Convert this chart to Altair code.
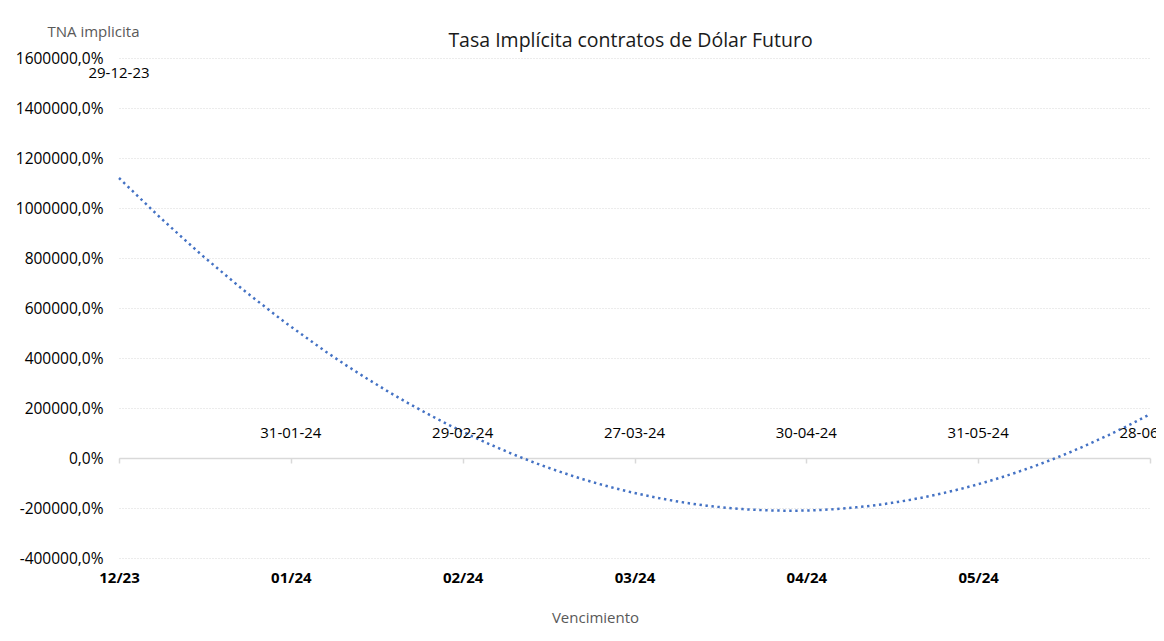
import altair as alt
import pandas as pd

# Data
fechas = ["29-12-23", "31-01-24", "29-02-24", "27-03-24", "30-04-24", "31-05-24", "28-06-24"]
mes_idx = [0, 1, 2, 3, 4, 5, 6]
tna = [1470000, 120, 110, 100, 95, 90, 85]  # TNA implícita, en %
mes_labels = ["12/23", "01/24", "02/24", "03/24", "04/24", "05/24"]
y_ticks = [-400000, -200000, 0, 200000, 400000, 600000, 800000, 1000000, 1200000, 1400000, 1600000]

df = pd.DataFrame({"fecha": fechas, "idx": mes_idx, "val": tna})

W, H = 1031, 500
Y_MIN, Y_MAX = -400000, 1600000
zero_from_top = H * (Y_MAX - 0) / (Y_MAX - Y_MIN)
zero_offset = -(H - zero_from_top)

FONT = "Open Sans"

y_scale = alt.Scale(domain=[Y_MIN, Y_MAX], nice=False, zero=False)
x_scale = alt.Scale(domain=[0, 6], nice=False, zero=False)

y_axis = alt.Axis(
    values=y_ticks,
    labelExpr="datum.value + ',0%'",
    labelFontSize=15.5,
    labelColor="#000000",
    labelPadding=16,
    domain=False,
    ticks=False,
    grid=True,
    gridColor="#d9d9d9",
    gridDash=[1, 2],
    gridWidth=1,
    title="TNA implicita",
    titleAngle=0,
    titleAlign="center",
    titleBaseline="middle",
    titleX=-26,
    titleY=-27,
    titleFontSize=15,
    titleFontWeight="normal",
    titleColor="#595959",
)

label_expr = "[" + ",".join("'" + m + "'" for m in mes_labels) + "][datum.value]"

trend = (
    alt.Chart(df)
    .transform_regression("idx", "val", method="poly", order=2)
    .mark_line(color="#4472C4", strokeWidth=2.5, strokeDash=[2.4, 3.6])
    .encode(
        x=alt.X(
            "idx:Q",
            scale=x_scale,
            axis=alt.Axis(
                orient="bottom",
                offset=zero_offset,
                values=mes_idx,
                labels=False,
                grid=False,
                domain=True,
                domainColor="#d9d9d9",
                domainWidth=1.5,
                ticks=True,
                tickColor="#d9d9d9",
                tickWidth=1.5,
                tickSize=5,
                title="Tasa Implícita contratos de Dólar Futuro",
                titleX=630 - 119,
                titleY=-18 - zero_from_top,
                titleAlign="center",
                titleBaseline="middle",
                titleFontSize=19.5,
                titleFontWeight="normal",
                titleColor="#1a1a1a",
            ),
        ),
        y=alt.Y("val:Q", scale=y_scale, axis=y_axis),
    )
)

labels = (
    alt.Chart(df)
    .transform_filter("datum.idx > 0")
    .mark_text(dy=-25, fontSize=15, font=FONT, color="#000000")
    .encode(
        x=alt.X(
            "idx:Q",
            scale=x_scale,
            axis=alt.Axis(
                orient="bottom",
                values=mes_idx[:6],
                labelExpr=label_expr,
                labelFlush=False,
                labelFontSize=15,
                labelFontWeight="bold",
                labelColor="#000000",
                labelPadding=12,
                domain=False,
                ticks=False,
                grid=False,
                title="Vencimiento",
                titleX=595 - 119,
                titleY=59,
                titleAlign="center",
                titleBaseline="middle",
                titleFontSize=15,
                titleFontWeight="normal",
                titleColor="#595959",
            ),
        ),
        y=alt.Y("val:Q", scale=y_scale, axis=y_axis),
        text="fecha:N",
    )
)

first_label = (
    alt.Chart(df)
    .transform_filter("datum.idx == 0")
    .mark_text(dy=-18, fontSize=15, font=FONT, color="#000000")
    .encode(
        x=alt.X("idx:Q", scale=x_scale, axis=None),
        y=alt.Y("val:Q", scale=y_scale, axis=y_axis),
        text="fecha:N",
    )
)

chart = (
    alt.layer(trend, labels, first_label)
    .resolve_axis(x="independent")
    .properties(
        width=W,
        height=H,
        autosize=alt.AutoSizeParams(type="none"),
        padding={"left": 111, "top": 50, "right": 6, "bottom": 75},
        background="#ffffff",
    )
    .configure(font=FONT)
    .configure_view(stroke=None)
)

chart.save("out.html", embed_options={"renderer": "svg", "actions": False})
